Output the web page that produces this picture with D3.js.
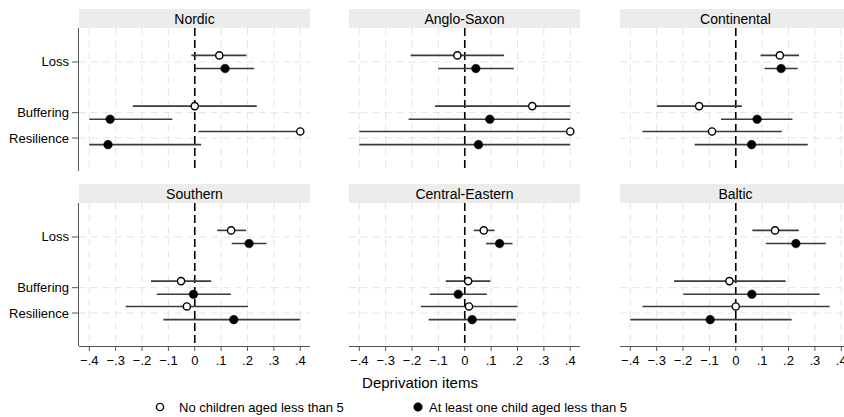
<!DOCTYPE html>
<html>
<head>
<meta charset="utf-8">
<script src="https://cdn.jsdelivr.net/npm/d3@7"></script>
<style>
  html, body { margin: 0; padding: 0; background: #fff; }
  svg { display: block; font-family: "Liberation Sans", Arial, sans-serif; }
</style>
</head>
<body>
<svg id="chart" width="844" height="417"></svg>
<script>
// Regions (one panel each), deprivation items and the two household groups
const regions = ["Nordic", "Anglo-Saxon", "Continental", "Southern", "Central-Eastern", "Baltic"];
const items = ["Loss", "Buffering", "Resilience"];
const groups = ["No children aged less than 5", "At least one child aged less than 5"];
const xTicks = [-0.4, -0.3, -0.2, -0.1, 0, 0.1, 0.2, 0.3, 0.4];

// Point estimates and confidence bounds, rows = regions, columns = items
const noChildEst = [
  [0.093, 0.000, 0.400],
  [-0.028, 0.256, 0.400],
  [0.167, -0.139, -0.090],
  [0.138, -0.052, -0.030],
  [0.072, 0.013, 0.016],
  [0.149, -0.024, 0.000]
];
const noChildLow = [
  [-0.013, -0.235, 0.014],
  [-0.205, -0.113, -0.400],
  [0.094, -0.299, -0.354],
  [0.085, -0.166, -0.262],
  [0.034, -0.072, -0.167],
  [0.063, -0.234, -0.354]
];
const noChildHigh = [
  [0.196, 0.235, 0.400],
  [0.149, 0.400, 0.400],
  [0.240, 0.023, 0.175],
  [0.195, 0.062, 0.202],
  [0.113, 0.097, 0.200],
  [0.239, 0.189, 0.356]
];
const childEst = [
  [0.115, -0.321, -0.329],
  [0.042, 0.095, 0.052],
  [0.172, 0.081, 0.060],
  [0.206, -0.005, 0.148],
  [0.132, -0.025, 0.028],
  [0.228, 0.061, -0.097]
];
const childLow = [
  [0.001, -0.400, -0.400],
  [-0.100, -0.213, -0.400],
  [0.109, -0.056, -0.156],
  [0.140, -0.144, -0.119],
  [0.081, -0.133, -0.137],
  [0.114, -0.199, -0.400]
];
const childHigh = [
  [0.225, -0.085, 0.024],
  [0.186, 0.400, 0.400],
  [0.235, 0.215, 0.273],
  [0.272, 0.137, 0.400],
  [0.181, 0.084, 0.194],
  [0.342, 0.318, 0.212]
];

const svg = d3.select("#chart");

// Panel layout
const colLeft = [79, 349, 620];
const panelW = 231;
const rowTop = [9, 184];
const stripH = 19;
const plotH = 143;

// Item slots on the vertical axis (a blank slot sits between Loss and Buffering)
const itemSlot = { "Loss": 1, "Buffering": 3, "Resilience": 4 };
const groupOffset = [-0.26, 0.26];

const x = d3.scaleLinear().domain([-0.439, 0.437]).range([0, panelW]);
const y = d3.scaleLinear().domain([-0.34, 5.3]).range([0, plotH]);

const fmt = d => d === 0 ? "0" : d3.format(".1f")(d).replace("0.", ".");

const gridColor = "#e4e4e4";

regions.forEach((region, ri) => {
  const col = ri % 3, row = Math.floor(ri / 3);
  const left = colLeft[col];
  const top = rowTop[row];
  const g = svg.append("g").attr("transform", `translate(${left},${top})`);

  // strip header
  g.append("rect").attr("x", 0).attr("y", 0).attr("width", panelW).attr("height", stripH)
    .attr("fill", "#ececec");
  g.append("text").attr("x", panelW / 2).attr("y", stripH / 2 + 5)
    .attr("text-anchor", "middle").attr("font-size", 14).attr("fill", "#000")
    .text(region);

  const p = g.append("g").attr("transform", `translate(0,${stripH})`);

  // vertical grid
  p.selectAll("line.vgrid").data(xTicks).join("line").attr("class", "vgrid")
    .attr("x1", d => x(d)).attr("x2", d => x(d)).attr("y1", 0).attr("y2", plotH)
    .attr("stroke", gridColor).attr("stroke-width", 1).attr("stroke-dasharray", "7,5");
  // horizontal grid
  p.selectAll("line.hgrid").data(items).join("line").attr("class", "hgrid")
    .attr("x1", 0).attr("x2", panelW).attr("y1", d => y(itemSlot[d])).attr("y2", d => y(itemSlot[d]))
    .attr("stroke", gridColor).attr("stroke-width", 1).attr("stroke-dasharray", "7,5");

  // zero reference line
  p.append("line").attr("x1", x(0)).attr("x2", x(0)).attr("y1", 0).attr("y2", plotH)
    .attr("stroke", "#000").attr("stroke-width", 1.6).attr("stroke-dasharray", "8,4");

  // confidence intervals and estimates
  const series = [
    { est: noChildEst, lo: noChildLow, hi: noChildHigh, filled: false },
    { est: childEst, lo: childLow, hi: childHigh, filled: true }
  ];
  series.forEach((s, si) => {
    const rows = items.map((it, ii) => ({
      item: it, est: s.est[ri][ii], lo: s.lo[ri][ii], hi: s.hi[ri][ii]
    }));
    p.selectAll(`line.ci${si}`).data(rows).join("line").attr("class", `ci${si}`)
      .attr("x1", d => x(d.lo)).attr("x2", d => x(d.hi))
      .attr("y1", d => y(itemSlot[d.item] + groupOffset[si]))
      .attr("y2", d => y(itemSlot[d.item] + groupOffset[si]))
      .attr("stroke", "#3a3a3a").attr("stroke-width", 1.6);
  });
  series.forEach((s, si) => {
    const rows = items.map((it, ii) => ({ item: it, est: s.est[ri][ii] }));
    p.selectAll(`circle.pt${si}`).data(rows).join("circle").attr("class", `pt${si}`)
      .attr("cx", d => x(d.est)).attr("cy", d => y(itemSlot[d.item] + groupOffset[si]))
      .attr("r", s.filled ? 4.3 : 3.6)
      .attr("fill", s.filled ? "#000" : "#fff")
      .attr("stroke", "#000").attr("stroke-width", s.filled ? 0.5 : 1.4);
  });

  // y axis on the first column
  if (col === 0) {
    const ya = p.append("g");
    ya.append("line").attr("x1", -0.5).attr("x2", -0.5).attr("y1", 0).attr("y2", plotH)
      .attr("stroke", "#555").attr("stroke-width", 1);
    items.forEach(it => {
      const yy = y(itemSlot[it]);
      ya.append("line").attr("x1", -7).attr("x2", -1).attr("y1", yy).attr("y2", yy)
        .attr("stroke", "#555").attr("stroke-width", 1);
      ya.append("text").attr("x", -10).attr("y", yy + 4.5).attr("text-anchor", "end")
        .attr("font-size", 13).attr("fill", "#000").text(it);
    });
  }

  // x axis on the bottom row
  if (row === 1) {
    const xa = p.append("g").attr("transform", `translate(0,${plotH})`);
    xa.append("line").attr("x1", 0).attr("x2", panelW).attr("y1", 0.5).attr("y2", 0.5)
      .attr("stroke", "#555").attr("stroke-width", 1);
    xTicks.forEach(t => {
      xa.append("line").attr("x1", x(t)).attr("x2", x(t)).attr("y1", 0).attr("y2", 5)
        .attr("stroke", "#555").attr("stroke-width", 1);
      xa.append("text").attr("x", x(t)).attr("y", 19).attr("text-anchor", "middle")
        .attr("font-size", 13).attr("fill", "#000").text(fmt(t));
    });
  }
});

// x axis title
svg.append("text").attr("x", 420).attr("y", 388).attr("text-anchor", "middle")
  .attr("font-size", 15).attr("fill", "#000").text("Deprivation items");

// legend
const legend = svg.append("g");
const legendX = [160, 418];
groups.forEach((gName, gi) => {
  legend.append("circle").attr("cx", legendX[gi]).attr("cy", 407)
    .attr("r", gi === 0 ? 3.6 : 4.3)
    .attr("fill", gi === 0 ? "#fff" : "#000")
    .attr("stroke", "#000").attr("stroke-width", gi === 0 ? 1.4 : 0.5);
  legend.append("text").attr("x", legendX[gi] + (gi === 0 ? 19 : 11)).attr("y", 411.5)
    .attr("font-size", 13).attr("fill", "#000").text(gName);
});
</script>
</body>
</html>
